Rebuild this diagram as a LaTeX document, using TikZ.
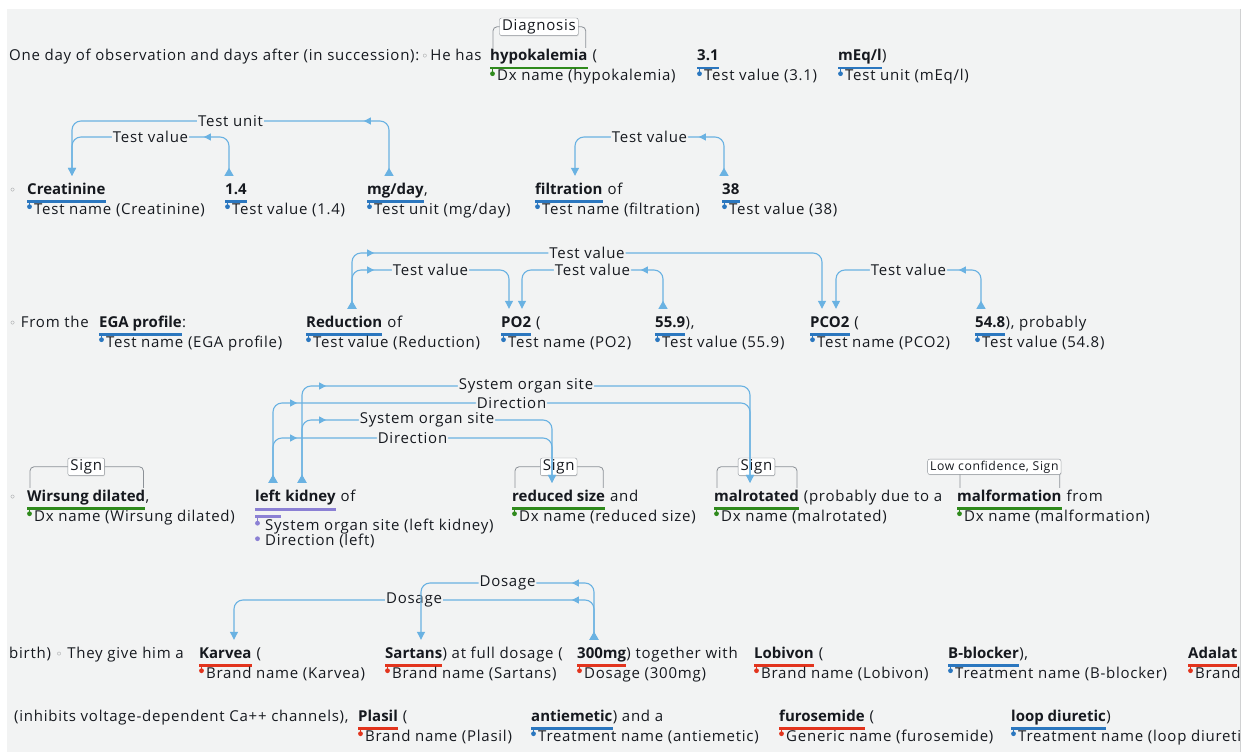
\documentclass[tikz,border=0pt]{standalone}
\usepackage{fontspec}
\setmainfont{Open Sans}[LetterSpace=5, BoldFeatures={LetterSpace=0}]
\newfontfamily\symfont{DejaVu Sans}
\usetikzlibrary{arrows.meta,decorations.markings,shadows,calc}

\definecolor{bg}{HTML}{F2F3F3}
\definecolor{ink}{HTML}{16191F}
\definecolor{rel}{HTML}{6AB2E2}
\definecolor{ublue}{HTML}{2B77BF}
\definecolor{ugreen}{HTML}{2F8A1C}
\definecolor{ured}{HTML}{E2341D}
\definecolor{upurple}{HTML}{8B80D4}
\definecolor{brk}{HTML}{8C9197}

\newcommand\txtfont{\fontsize{15}{18}\selectfont}

\tikzset{
  every node/.style={text=ink, font=\txtfont},
  txt/.style={inner sep=0pt, anchor=base west},
  word/.style={txt, font=\txtfont\bfseries, text height=11pt, text depth=3.5pt},
  lab/.style={fill=bg, inner xsep=1pt, inner ysep=0.5pt},
  tag/.style={draw=brk, fill=white, rounded corners=2pt, inner xsep=2.5pt, inner ysep=1.5pt,
    drop shadow={opacity=0.2, shadow xshift=0.6pt, shadow yshift=-0.8pt}},
  bracket/.style={draw=brk, line width=0.8pt, rounded corners=4pt},
  link/.style={draw=rel, line width=1.1pt, rounded corners=9pt,
    {Triangle[reversed,length=8pt,width=9pt]}-{Triangle[length=8pt,width=8pt]},
    postaction={decorate, decoration={markings,
      mark=at position #1pt with {\arrow[color=rel]{Triangle[length=7pt,width=7pt]}}}}},
}

% an annotated word: name, position, word, trailing text, colour, sub-label
\newcommand\ent[6]{%
  \node[word] (#1) at (#2) {#3};
  \node[txt] (#1x) at (#1.base east) {#4};
  \draw[line width=2.6pt, draw=#5] ([yshift=-3.5pt]#1.south west) -- ([yshift=-3.5pt]#1.south east);
  \draw[line width=1.1pt, draw=#5] ([xshift=2.5pt,yshift=-3.5pt]#1.south west) -- ([xshift=2.5pt,yshift=-8.5pt]#1.south west);
  \fill[#5] ([xshift=2.5pt,yshift=-9pt]#1.south west) circle (2.4pt);
  \node[txt] (#1s) at ([xshift=7pt,yshift=-20pt]#1.base west) {#6};
}
% bracket with a tag above a word: [tag options], word, tag text
\newcommand\sign[3][]{%
  \draw[bracket] ([xshift=3pt,yshift=2pt]#2.north west) |- ([yshift=23pt]#2.north)
    -| ([xshift=-2pt,yshift=2pt]#2.north east);
  \node[tag,#1] (#2tag) at ([yshift=23pt]#2.north) {#3};
}
% relation arrow: mark distance, source, target, lane, label
\newcommand\link[5]{%
  \draw[link=#1] (#2) |- node[lab,pos=0.75]{#5} (#3 |- #4) -- (#3);
}
\newcommand\bul{{\color{ink!55}\symfont\fontsize{12}{14}\selectfont ◦}}

\begin{document}
\begin{tikzpicture}[x=1pt,y=-1pt]
\useasboundingbox (0,0) rectangle (1251,752);
\fill[white] (0,0) rectangle (1251,752);
\fill[bg] (7,9) rectangle (1240,752);
\draw[ink!20, line width=0.8pt] (1240,9) -- (1240,752);

\begin{scope}
\clip (7,9) rectangle (1239.5,752);

% row 1
\node[txt] (p1) at (9,61) {One day of observation and days after (in succession):\hspace{2pt}\bul\hspace{2pt}He has};
\ent{hypo}{490,61}{hypokalemia}{\ (}{ugreen}{Dx name (hypokalemia)}
\ent{v31}{697,61}{3.1}{}{ublue}{Test value (3.1)}
\ent{meq}{838,61}{mEq/l}{)}{ublue}{Test unit (mEq/l)}
\sign{hypo}{Diagnosis}

% row 2
\node[txt] (p2) at (9,194) {\bul};
\ent{cre}{27,194}{Creatinine}{}{ublue}{Test name (Creatinine)}
\ent{v14}{225,194}{1.4}{}{ublue}{Test value (1.4)}
\ent{mgd}{367,194}{mg/day}{,}{ublue}{Test unit (mg/day)}
\ent{filt}{535,194}{filtration}{\ of}{ublue}{Test name (filtration)}
\ent{v38}{722,194}{38}{}{ublue}{Test value (38)}

% row 3
\node[txt] (p3) at (9,327) {\bul{} From the};
\ent{ega}{99,327}{EGA profile}{:}{ublue}{Test name (EGA profile)}
\ent{red}{306,327}{Reduction}{\ of}{ublue}{Test value (Reduction)}
\ent{po2}{501,327}{PO2}{\ (}{ublue}{Test name (PO2)}
\ent{vfs}{655,327}{55.9}{),}{ublue}{Test value (55.9)}
\ent{pco2}{810,327}{PCO2}{\ (}{ublue}{Test name (PCO2)}
\ent{vfe}{975,327}{54.8}{), probably}{ublue}{Test value (54.8)}

% row 4
\node[txt] (p4) at (9,501) {\bul};
\ent{wir}{27,501}{Wirsung dilated}{,}{ugreen}{Dx name (Wirsung dilated)}
\node[word] (lk) at (255,501) {left};
\node[word] (lkb) at (lk.base east) {\ kidney};
\node[txt] (lkx) at (lkb.base east) {\ of};
\draw[line width=2.6pt, upurple] ([yshift=-4.5pt]lk.south west) -- ([yshift=-4.5pt]lkb.south east);
\draw[line width=2.6pt, upurple] ([yshift=-11.5pt]lk.south west) -- ([yshift=-11.5pt]lk.south east);
\draw[line width=1.1pt, upurple] ([xshift=2.5pt,yshift=-11.5pt]lk.south west) -- ([xshift=2.5pt,yshift=-17.5pt]lk.south west);
\fill[upurple] ([xshift=2.5pt,yshift=-18.5pt]lk.south west) circle (2.4pt);
\fill[upurple] ([xshift=2.5pt,yshift=-34pt]lk.south west) circle (2.4pt);
\node[txt] (lks) at ([xshift=10pt,yshift=-29pt]lk.base west) {System organ site (left kidney)};
\node[txt] (lkd) at ([xshift=10pt,yshift=-44pt]lk.base west) {Direction (left)};
\ent{rsz}{512,501}{reduced size}{\ and}{ugreen}{Dx name (reduced size)}
\ent{mal}{714,501}{malrotated}{\ (probably due to a}{ugreen}{Dx name (malrotated)}
\ent{malf}{957,501}{malformation}{\ from}{ugreen}{Dx name (malformation)}
\sign{wir}{Sign}
\sign{rsz}{Sign}
\sign{mal}{Sign}
\sign[xshift=-15pt,font=\fontsize{12.2}{15}\selectfont]{malf}{Low confidence, Sign}

% row 5
\node[txt] (p5) at (9,658) {birth) \bul{} They give him a};
\ent{karv}{199,658}{Karvea}{\ (}{ured}{Brand name (Karvea)}
\ent{sart}{385,658}{Sartans}{) at full dosage (}{ured}{Brand name (Sartans)}
\ent{dose}{577,658}{300mg}{) together with}{ured}{Dosage (300mg)}
\ent{lobi}{754,658}{Lobivon}{\ (}{ured}{Brand name (Lobivon)}
\ent{bblk}{948,658}{B-blocker}{),}{ublue}{Treatment name (B-blocker)}
\ent{adal}{1188,658}{Adalat}{}{ured}{Brand name (Adalat)}

% row 6
\node[txt] (p6) at (14,721) {(inhibits voltage-dependent Ca++ channels),};
\ent{plas}{358,721}{Plasil}{\ (}{ured}{Brand name (Plasil)}
\ent{anti}{531,721}{antiemetic}{) and a}{ublue}{Treatment name (antiemetic)}
\ent{furo}{779,721}{furosemide}{\ (}{ured}{Generic name (furosemide)}
\ent{loop}{1011,721}{loop diuretic}{)}{ublue}{Treatment name (loop diuretic)}

% lanes of the relation arrows
\coordinate (l2a) at (0,121);
\coordinate (l2b) at (0,137);
\coordinate (l3a) at (0,253);
\coordinate (l3b) at (0,270);
\coordinate (l4a) at (0,386);
\coordinate (l4b) at (0,403);
\coordinate (l4c) at (0,420);
\coordinate (l4d) at (0,438);
\coordinate (l5a) at (0,583);
\coordinate (l5b) at (0,600);

% arrow ends on the words
\coordinate (cre-in)   at ([xshift=45pt,yshift=7pt]cre.north west);
\coordinate (v14-out)  at ([xshift=4pt,yshift=7pt]v14.north west);
\coordinate (mgd-out)  at ([xshift=22pt,yshift=7pt]mgd.north west);
\coordinate (filt-in)  at ([xshift=40pt,yshift=7pt]filt.north west);
\coordinate (v38-out)  at ([xshift=2pt,yshift=7pt]v38.north west);
\coordinate (red-out)  at ([xshift=46pt,yshift=7pt]red.north west);
\coordinate (po2-a)    at ([xshift=8pt,yshift=7pt]po2.north west);
\coordinate (po2-b)    at ([xshift=21pt,yshift=7pt]po2.north west);
\coordinate (vfs-out)  at ([xshift=8pt,yshift=7pt]vfs.north west);
\coordinate (pco2-a)   at ([xshift=12pt,yshift=7pt]pco2.north west);
\coordinate (pco2-b)   at ([xshift=26pt,yshift=7pt]pco2.north west);
\coordinate (vfe-out)  at ([xshift=6pt,yshift=7pt]vfe.north west);
\coordinate (lk-dir)   at ([xshift=18pt,yshift=7pt]lk.north west);
\coordinate (lk-site)  at ([xshift=47pt,yshift=7pt]lk.north west);
\coordinate (rsz-in)   at ([xshift=40pt,yshift=7pt]rsz.north west);
\coordinate (mal-in)   at ([xshift=36pt,yshift=7pt]mal.north west);
\coordinate (dose-out) at ([xshift=17pt,yshift=7pt]dose.north west);
\coordinate (sart-in)  at ([xshift=36pt,yshift=7pt]sart.north west);
\coordinate (karv-in)  at ([xshift=35pt,yshift=7pt]karv.north west);

\link{76}{mgd-out}{cre-in}{l2a}{Test unit}
\link{60}{v14-out}{cre-in}{l2b}{Test value}
\link{60}{v38-out}{filt-in}{l2b}{Test value}
\link{74}{red-out}{pco2-a}{l3a}{Test value}
\link{57}{red-out}{po2-a}{l3b}{Test value}
\link{57}{vfs-out}{po2-b}{l3b}{Test value}
\link{57}{vfe-out}{pco2-b}{l3b}{Test value}
\link{117}{lk-site}{mal-in}{l4a}{System organ site}
\link{100}{lk-dir}{mal-in}{l4b}{Direction}
\link{83}{lk-site}{rsz-in}{l4c}{System organ site}
\link{65}{lk-dir}{rsz-in}{l4d}{Direction}
\link{58}{dose-out}{karv-in}{l5b}{Dosage}
\link{75}{dose-out}{sart-in}{l5a}{Dosage}
\end{scope}
\end{tikzpicture}
\end{document}
